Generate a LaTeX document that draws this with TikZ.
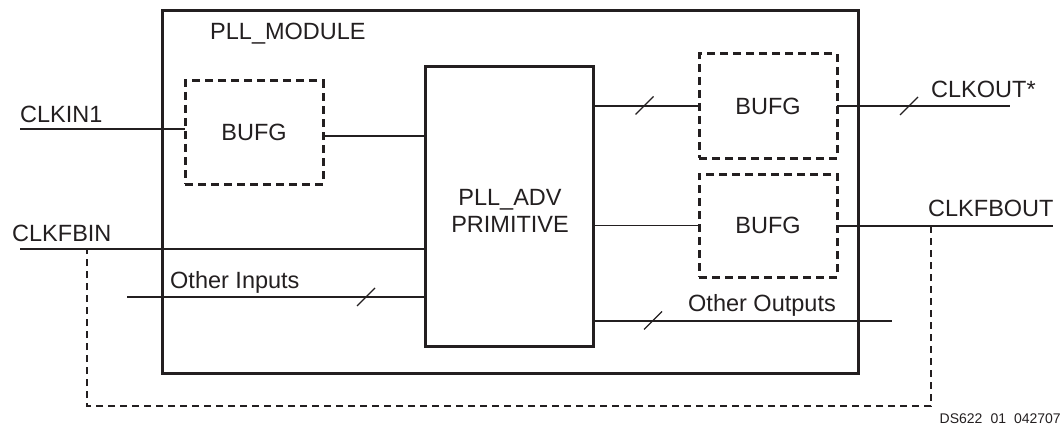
\documentclass[tikz,border=0pt]{standalone}
\usepackage{fontspec}
\setmainfont{Liberation Sans}
\newcommand\lblfont{\fontsize{23.5}{27}\selectfont}
\newcommand\tagfont{\fontsize{14}{16}\selectfont}
\definecolor{ink}{RGB}{35,31,32}
\tikzset{
  box/.style={draw=ink, line width=3pt, inner sep=0pt, outer sep=0pt, text=ink, font=\lblfont, align=center},
  bufg/.style={draw=ink, line width=3pt, dash pattern=on 8pt off 5pt, minimum width=138pt, minimum height=103pt, inner sep=0pt, outer sep=0pt, text=ink, font=\lblfont},
  sig/.style={draw=ink, line width=1.6pt},
  fb/.style={draw=ink, line width=1.3pt, dash pattern=on 7pt off 5pt},
  lbl/.style={text=ink, font=\lblfont, inner sep=0pt, anchor=base west},
  pics/busslash/.style={code={\draw[ink, line width=1.2pt] (-9,9) -- (9,-9);}}
}
\begin{document}
\begin{tikzpicture}[x=1pt, y=-1pt]
\useasboundingbox (0,0) rectangle (1062,425);
% boxes
\node[box, minimum width=696pt, minimum height=362pt] (mod) at (510,192) {};
\node[bufg] (bufA) at (254,132.5) {BUFG};
\node[box, minimum width=168pt, minimum height=279pt, text height=0pt, text depth=0pt] (pll) at (509,206.5) {};
\node[text=ink, font=\lblfont, align=center, inner sep=0pt, anchor=base] (plltxt) at (510,232) {PLL\_ADV\\PRIMITIVE};
\node[bufg, minimum height=104pt] (bufB) at (768,106) {BUFG};
\node[bufg] (bufC) at (768,225.5) {BUFG};
% free ends
\coordinate (in1) at (20,129);
\coordinate (fbin) at (20,249);
\coordinate (oin) at (127,297);
\coordinate (cko) at (1010,106);
\coordinate (fbo) at (1053,226);
\coordinate (oout) at (892,321);
\coordinate (fbA) at (931,226);
\coordinate (fbB) at (931,406);
\coordinate (fbC) at (87,406);
\coordinate (fbD) at (87,249);
% connectors
\draw[sig] (in1) -- (in1 -| bufA.west);
\draw[sig] (bufA.east |- 0,136) -- (pll.west |- 0,136);
\draw[sig] (fbin) -- (fbin -| pll.west);
\draw[sig] (oin) -- (oin -| pll.west);
\draw[sig] (pll.east |- bufB.west) -- (bufB.west);
\draw[sig] (bufB.east) -- (cko);
\draw[sig] (pll.east |- bufC.west) -- (bufC.west);
\draw[sig] (bufC.east |- fbo) -- (fbo);
\draw[sig] (pll.east |- oout) -- (oout);
\draw[fb] (fbA) -- (fbB) -- (fbC) -- (fbD);
% bus slashes
\pic at (644.5,105.5) {busslash};
\pic at (909,106) {busslash};
\pic at (366,297) {busslash};
\pic at (653,320.5) {busslash};
% labels
\node[lbl] (lmod) at (210,40) {PLL\_MODULE};
\node[lbl] (lin1) at (20,122) {CLKIN1};
\node[lbl] (lfbin) at (12,241) {CLKFBIN};
\node[lbl] (loin) at (170,288) {Other Inputs};
\node[lbl] (lcko) at (931,98) {CLKOUT*};
\node[lbl] (lfbo) at (928,216) {CLKFBOUT};
\node[lbl] (loout) at (688,311) {Other Outputs};
\node[text=ink, font=\tagfont, inner sep=0pt, anchor=base east] (tag) at (1061,423) {DS622\hspace{8pt}01\hspace{8pt}042707};
\end{tikzpicture}
\end{document}
